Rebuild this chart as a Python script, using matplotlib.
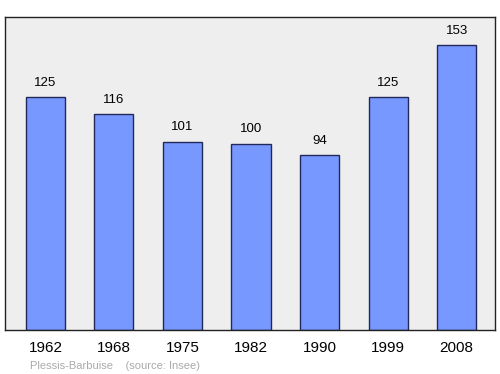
import matplotlib
matplotlib.use("Agg")
import matplotlib.pyplot as plt

years = ['1962', '1968', '1975', '1982', '1990', '1999', '2008']
population = [125, 116, 101, 100, 94, 125, 153]

plt.rcParams['font.family'] = ['Liberation Sans', 'DejaVu Sans']

fig = plt.figure(figsize=(5, 3.74), dpi=100)
ax = fig.add_axes([0.01, 0.1176, 0.98, 0.8369])
ax.set_facecolor('#eeeeee')

x = range(len(years))
ax.bar(x, population, width=0.57, color='#7799ff', edgecolor='#22285a', linewidth=1)
for i, v in zip(x, population):
    ax.text(i, v + 4.5, str(v), ha='center', va='bottom', fontsize=9.5)

ax.set_xlim(-0.59, 6.56)
ax.set_ylim(0, 168)
ax.set_xticks(list(x))
ax.set_xticklabels(years, fontsize=11)
ax.tick_params(axis='x', length=0, pad=8)
ax.set_yticks([])
for s in ax.spines.values():
    s.set_color('#222222')
    s.set_linewidth(1)

fig.text(0.06, 0.014, 'Plessis-Barbuise    (source: Insee)', fontsize=8, color='#aaaaaa')

fig.savefig('out.png', dpi=100)
